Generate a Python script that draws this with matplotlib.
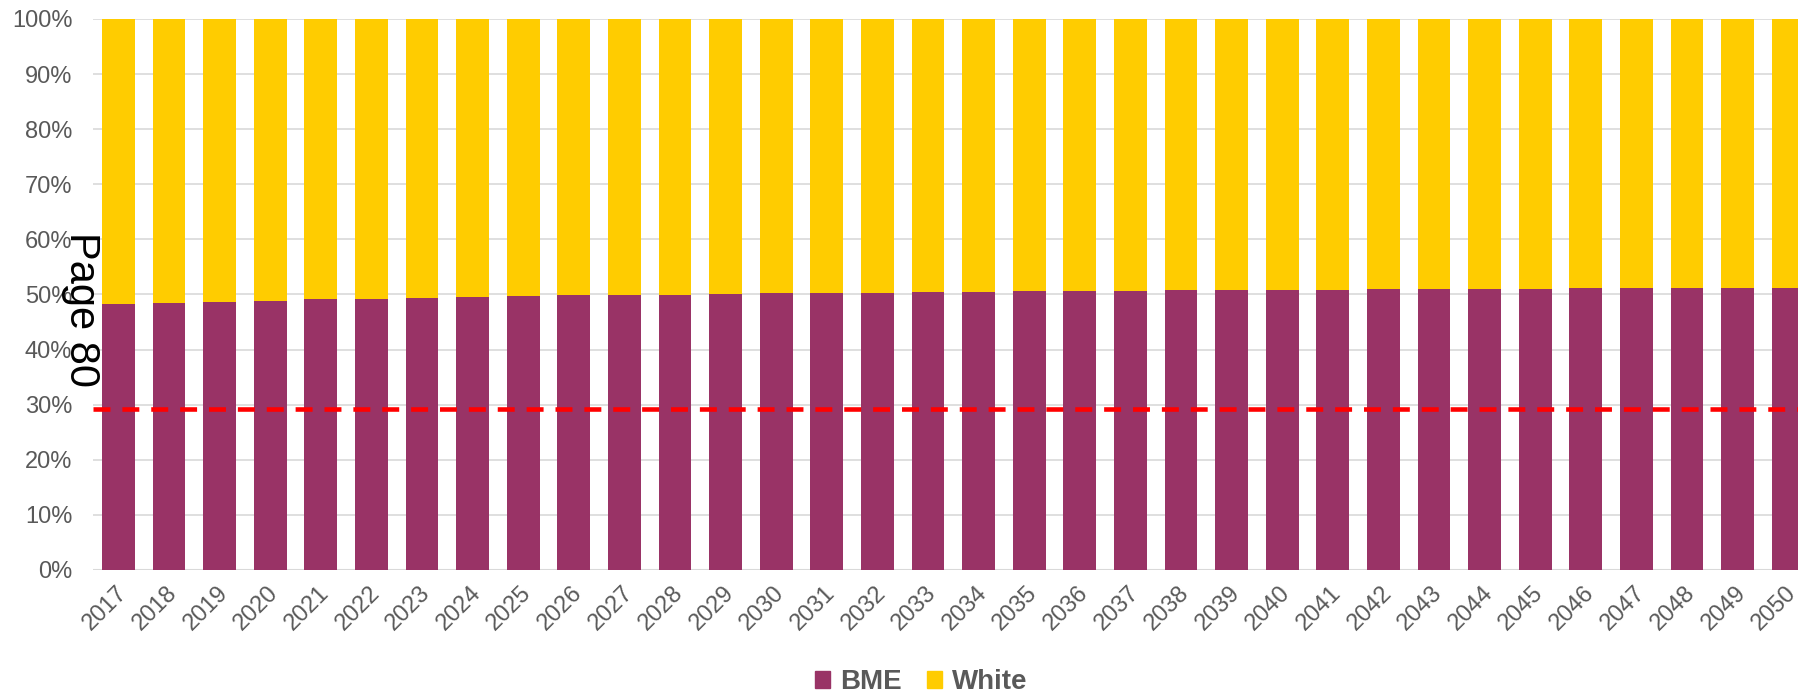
import matplotlib

matplotlib.use("Agg")
import matplotlib.pyplot as plt
import matplotlib.transforms as mtransforms
import numpy as np
from matplotlib.patches import Patch

plt.rcParams["font.family"] = ["Liberation Sans", "DejaVu Sans"]

# data
years = [str(y) for y in range(2017, 2051)]
bme = [
    48.24, 48.42, 48.67, 48.85, 49.09, 49.15,  # 2017-2022
    49.33, 49.52, 49.70, 49.82, 49.88, 49.94,  # 2023-2028
    50.00, 50.18, 50.24, 50.30, 50.42, 50.48,  # 2029-2034
    50.55, 50.55, 50.67, 50.73, 50.73, 50.85,  # 2035-2040
    50.85, 50.91, 50.91, 50.91, 51.03, 51.09,  # 2041-2046
    51.09, 51.15, 51.15, 51.21,  # 2047-2050
]
white = [100 - v for v in bme]
threshold = 29.3  # red dashed reference line
yticks = list(range(0, 101, 10))

BME_COLOR = "#993366"
WHITE_COLOR = "#FFCC00"
TEXT_COLOR = "#595959"
GRID_COLOR = "#D9D9D9"

fig = plt.figure(figsize=(17.98, 6.95), dpi=100)
ax = fig.add_axes([0.0518, 0.1799, 0.9568, 0.7928])

x = np.arange(len(years))
ax.bar(x, bme, width=0.65, color=BME_COLOR, zorder=3)
ax.bar(x, white, width=0.65, bottom=bme, color=WHITE_COLOR, zorder=3)

ax.axhline(threshold, color="#FF0000", linewidth=3.3, linestyle=(0, (3.7, 2.6)), zorder=4)

ax.set_xlim(-0.5, len(years) - 0.5)
ax.set_ylim(0, 100)
ax.set_yticks(yticks)
ax.set_yticklabels([f"{t}%" for t in yticks])
ax.set_xticks(x)
ax.set_xticklabels(years, rotation=45, ha="right", va="center", rotation_mode="anchor")

ax.tick_params(axis="y", length=0, pad=15, labelsize=17, labelcolor=TEXT_COLOR)
ax.tick_params(axis="x", length=0, pad=14, labelsize=17, labelcolor=TEXT_COLOR)

# nudge the rotated year labels a little to the right
shift = mtransforms.ScaledTranslation(5 / 100, 0, fig.dpi_scale_trans)
for lab in ax.get_xticklabels():
    lab.set_transform(lab.get_transform() + shift)

ax.grid(axis="y", color=GRID_COLOR, linewidth=1.2, zorder=0)
for s in ax.spines.values():
    s.set_visible(False)
ax.axhline(0, color=GRID_COLOR, linewidth=1.5, zorder=2)

# page stamp overlapping the y axis
fig.text(81 / 1798, 1 - 310 / 695, "Page 80", rotation=-90, fontsize=30,
         color="black", ha="center", va="center")

handles = [Patch(color=BME_COLOR, label="BME"), Patch(color=WHITE_COLOR, label="White")]
leg = fig.legend(handles=handles, loc="center", bbox_to_anchor=(921 / 1798, 1 - 682 / 695),
                 ncol=2, frameon=False, handlelength=0.55, handleheight=0.55,
                 handletextpad=0.35, columnspacing=0.9, prop={"weight": "bold", "size": 20})
for t in leg.get_texts():
    t.set_color(TEXT_COLOR)

fig.savefig("out.png", dpi=100)
